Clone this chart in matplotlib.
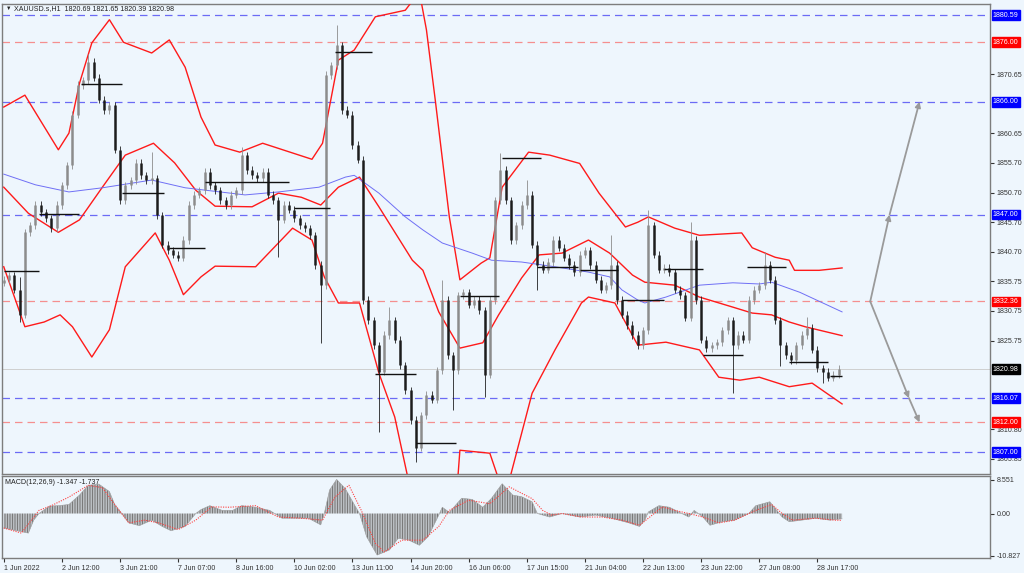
import matplotlib
matplotlib.use("Agg")
import matplotlib.pyplot as plt
import matplotlib.transforms as mtransforms
import numpy as np

plt.rcParams['font.family'] = ['Liberation Sans', 'DejaVu Sans']
plt.rcParams['hatch.linewidth'] = 0.8

# price closes, one every 3 hourly bars (XAUUSD H1, 1 Jun - 29 Jun 2022)
closes = [1836.0, 1836.8, 1834.3, 1830.1, 1844.0, 1845.2, 1848.6, 1847.4, 1846.4, 1844.7,
          1848.6, 1851.9, 1855.3, 1863.8, 1868.8, 1869.6, 1872.7, 1870.0, 1866.3, 1864.6,
          1865.4, 1857.9, 1849.4, 1851.9, 1852.8, 1855.7, 1853.6, 1852.8, 1853.1, 1846.9,
          1841.9, 1841.0, 1840.2, 1839.7, 1842.7, 1848.6, 1850.3, 1851.1, 1854.2, 1851.9,
          1851.1, 1849.4, 1848.6, 1850.3, 1851.1, 1857.0, 1854.5, 1853.6, 1853.1, 1854.2,
          1850.3, 1849.4, 1846.1, 1848.6, 1847.8, 1846.4, 1845.2, 1844.7, 1843.5, 1838.5,
          1835.1, 1870.5, 1872.1, 1875.5, 1864.6, 1863.8, 1858.7, 1856.2, 1832.6, 1829.2,
          1825.0, 1820.5, 1826.7, 1829.2, 1825.9, 1821.6, 1817.4, 1812.4, 1807.7, 1813.2,
          1816.6, 1815.8, 1820.8, 1832.6, 1823.3, 1820.8, 1833.4, 1833.9, 1831.8, 1832.6,
          1830.9, 1820.0, 1832.6, 1849.4, 1854.5, 1849.4, 1842.7, 1845.2, 1848.6, 1850.3,
          1841.9, 1838.5, 1837.7, 1839.0, 1842.7, 1841.4, 1839.7, 1838.5, 1837.3, 1840.2,
          1841.0, 1838.5, 1836.0, 1834.3, 1835.1, 1838.5, 1832.6, 1830.1, 1828.4, 1826.7,
          1825.0, 1827.5, 1845.2, 1840.2, 1837.7, 1838.0, 1837.3, 1834.3, 1833.4, 1829.6,
          1842.7, 1832.6, 1825.9, 1824.5, 1825.0, 1825.5, 1827.5, 1829.2, 1825.0, 1826.7,
          1825.9, 1832.6, 1834.3, 1835.1, 1838.5, 1836.0, 1829.2, 1825.0, 1823.3, 1822.5,
          1825.0, 1826.7, 1827.9, 1824.2, 1821.1, 1820.5, 1819.5, 1820.0, 1820.98]
first_open = 1835.5
spike_highs = {3: 1836.5, 16: 1874.0, 28: 1857.5, 45: 1858.4, 63: 1878.9, 73: 1831.4,
               83: 1836.0, 94: 1857.4, 99: 1852.8, 115: 1843.5, 122: 1847.8,
               130: 1845.8, 144: 1840.7, 152: 1829.8}
spike_lows = {3: 1828.9, 52: 1839.8, 60: 1825.4, 71: 1810.4, 78: 1805.3, 85: 1814.1,
              91: 1816.3, 101: 1834.3, 138: 1816.9, 147: 1821.5, 155: 1818.6}

# bollinger bands (bar index, price)
upper_bar = [0, 12, 31, 37, 43, 50, 60, 68, 84, 94, 103, 112, 120, 134, 147, 175, 181, 190,
             199, 211, 228, 236, 240, 245, 253, 259, 271, 276, 283, 298, 310, 327, 338, 353,
             360, 366, 381, 395, 419, 425, 438, 446, 449, 463, 476]
upper_val = [1865.1, 1867.1, 1857.9, 1860.7, 1869.1, 1875.9, 1879.8, 1876.0, 1874.2, 1876.4,
             1871.8, 1863.4, 1858.7, 1857.5, 1859.0, 1856.3, 1859.0, 1873.0, 1874.7, 1880.3,
             1881.4, 1884.5, 1878.1, 1866.3, 1846.6, 1836.0, 1838.8, 1839.7, 1851.6, 1857.5,
             1857.0, 1855.6, 1850.6, 1844.9, 1845.7, 1846.6, 1844.7, 1843.5, 1843.9, 1841.4,
             1839.8, 1839.3, 1837.6, 1837.6, 1838.0]
mid_bar = [0, 14, 31, 43, 56, 69, 85, 97, 109, 120, 141, 156, 169, 180, 190, 202, 213, 232,
           238, 247, 259, 272, 281, 294, 304, 317, 332, 344, 357, 364, 381, 395, 414, 425,
           436, 446, 455, 476]
mid_val = [1851.6, 1847.2, 1844.0, 1846.1, 1851.6, 1857.0, 1859.0, 1855.7, 1851.1, 1848.4,
           1848.3, 1850.6, 1849.9, 1848.6, 1851.6, 1853.3, 1848.3, 1839.3, 1837.6, 1830.6,
           1824.5, 1825.4, 1830.1, 1836.3, 1840.2, 1840.5, 1842.7, 1840.5, 1836.8, 1835.6,
           1835.1, 1833.1, 1831.4, 1830.4, 1830.1, 1828.9, 1828.1, 1826.6]
lower_bar = [0, 12, 23, 32, 39, 50, 60, 69, 86, 94, 102, 112, 120, 143, 164, 175, 182, 190,
             202, 213, 222, 229, 238, 250, 258, 259, 276, 280, 284, 288, 300, 313, 328, 332,
             347, 360, 376, 395, 406, 418, 429, 446, 459, 476]
lower_val = [1838.2, 1828.1, 1828.9, 1830.1, 1828.1, 1823.0, 1827.6, 1838.2, 1843.9, 1839.3,
             1833.5, 1836.5, 1838.3, 1838.2, 1844.7, 1842.7, 1836.5, 1832.1, 1832.1, 1820.3,
             1812.9, 1803.3, 1797.5, 1800.0, 1803.3, 1807.3, 1806.8, 1803.3, 1801.5, 1803.3,
             1816.9, 1824.2, 1832.1, 1833.1, 1832.1, 1825.0, 1825.5, 1824.2, 1819.6, 1819.1,
             1819.6, 1818.0, 1818.6, 1815.1]

# moving average (blue)
ma_bar = [0, 18, 37, 56, 84, 103, 120, 137, 156, 179, 194, 199, 213, 228, 238, 249, 266,
          277, 294, 313, 332, 344, 351, 360, 364, 376, 395, 414, 429, 436, 452, 476]
ma_val = [1853.8, 1852.0, 1850.8, 1851.5, 1852.8, 1851.5, 1850.9, 1850.3, 1850.8, 1851.6,
          1853.3, 1853.6, 1850.6, 1846.6, 1844.4, 1842.2, 1840.5, 1839.3, 1839.0, 1838.2,
          1837.3, 1836.5, 1834.3, 1832.6, 1832.1, 1833.1, 1835.1, 1835.5, 1835.3, 1835.6,
          1833.9, 1830.6]

# daily close segments
seg_start = [0, 20, 44, 67, 94, 114, 165, 188, 211, 234, 259, 283, 303, 327, 351, 375, 397, 422, 446, 469]
seg_end = [20, 43, 67, 91, 114, 162, 185, 209, 234, 257, 281, 305, 326, 349, 375, 397, 420, 444, 468, 476]
seg_price = [1837.5, 1847.1, 1869.0, 1850.6, 1841.4, 1852.5, 1848.1, 1874.4, 1820.1, 1808.5,
             1833.3, 1856.5, 1838.2, 1837.6, 1832.6, 1837.8, 1823.3, 1838.2, 1822.1, 1819.8]

# MACD histogram and signal
macd_bar = [0, 14, 17, 20, 26, 31, 37, 43, 48, 54, 60, 63, 67, 71, 77, 84, 90, 95, 103, 109,
            112, 117, 124, 130, 135, 143, 151, 158, 165, 173, 180, 182, 185, 189, 194, 199,
            202, 206, 212, 219, 224, 230, 236, 241, 247, 249, 253, 260, 266, 272, 277, 283,
            289, 294, 300, 303, 310, 317, 327, 336, 345, 355, 361, 364, 366, 372, 378, 385,
            389, 392, 397, 401, 408, 415, 423, 427, 435, 438, 442, 446, 453, 461, 469, 476]
macd_val = [-3.7, -5.0, -1.7, 0.0, 1.9, 2.0, 2.3, 4.7, 7.2, 7.5, 5.6, 2.3, 0.0, -2.4, -3.1,
            -1.7, -3.3, -4.4, -3.3, 0.0, 1.0, 2.0, 0.8, 0.8, 2.0, 1.6, 0.8, -1.2, -1.2, -1.2,
            -2.9, 0.0, 6.0, 8.7, 6.3, 2.3, 0.0, -5.9, -10.6, -9.3, -6.3, -6.8, -8.1, -5.9,
            -0.4, 1.6, 0.3, 3.9, 3.6, 1.6, 3.9, 7.6, 4.7, 4.3, 3.0, 0.0, -0.9, 0.0, -0.9,
            -0.4, -1.2, -2.4, -3.3, -1.7, 0.4, 2.0, 1.6, 0.0, -0.9, 0.8, -0.9, -3.0, -2.1,
            -1.7, 0.0, 2.0, 3.0, 1.3, -0.9, -2.1, -1.7, -1.2, -1.7, -1.347]
sig_bar = [0, 10, 20, 27, 37, 48, 56, 63, 71, 80, 88, 99, 109, 118, 128, 143, 156, 169, 181,
           188, 196, 203, 211, 216, 226, 238, 247, 253, 264, 276, 287, 300, 306, 311, 317,
           328, 340, 351, 361, 366, 374, 381, 389, 397, 406, 415, 427, 436, 442, 448, 461,
           472, 476]
sig_val = [-3.7, -5.0, 0.8, 2.0, 4.2, 7.2, 6.6, 2.3, -2.4, -1.7, -2.4, -4.1, -1.7, 1.7, 1.6,
           2.0, -0.9, -1.2, -1.7, 4.2, 7.2, 0.8, -7.6, -9.8, -6.8, -6.8, -3.3, 0.8, 3.4, 2.5,
           6.8, 3.8, 0.8, -0.4, 0.0, -0.9, -0.9, -1.7, -3.0, -1.2, 1.7, 0.8, 0.0, -0.9, -2.4,
           -1.7, 0.8, 2.3, 0.0, -1.7, -1.2, -1.7, -1.737]

blue_levels = [1880.59, 1866.00, 1847.00, 1816.07, 1807.00]
red_levels = [1876.00, 1832.36, 1812.00]
last_price = 1820.98
price_ticks = [1870.65, 1860.65, 1855.70, 1850.70, 1845.70, 1840.70, 1835.75,
               1830.75, 1825.75, 1810.80, 1805.85]
time_tick_bars = [0, 33, 66, 99, 132, 165, 198, 231, 264, 297, 330, 363, 396, 429, 462]
time_tick_labels = ["1 Jun 2022", "2 Jun 12:00", "3 Jun 21:00", "7 Jun 07:00", "8 Jun 16:00",
                    "10 Jun 02:00", "13 Jun 11:00", "14 Jun 20:00", "16 Jun 06:00",
                    "17 Jun 15:00", "21 Jun 04:00", "22 Jun 13:00", "23 Jun 22:00",
                    "27 Jun 08:00", "28 Jun 17:00"]
# projection arrows (bar, price)
arrow_up = [(492, 1832.36), (503, 1847.00), (520, 1866.00)]
arrow_dn = [(492, 1832.36), (514, 1816.07), (520, 1812.00)]

bg = "#eef6fd"
fs = 5.1
fig = plt.figure(figsize=(10.24, 5.73), dpi=100, facecolor=bg)
ax = fig.add_axes([2 / 1024, 1 - 474 / 573, 988 / 1024, 470 / 573], facecolor=bg)
axm = fig.add_axes([2 / 1024, 1 - 558 / 573, 988 / 1024, 82 / 573], facecolor=bg, sharex=ax)

# levels
for lv in blue_levels:
    ax.axhline(lv, color="#6b6bf5", lw=0.9, ls=(0, (6, 4)), zorder=1)
for lv in red_levels:
    ax.axhline(lv, color="#f58f8f", lw=0.9, ls=(0, (6, 4)), zorder=1)
ax.axhline(last_price, color="#cfcfcf", lw=0.7, zorder=1)

# indicators
ax.plot(upper_bar, upper_val, color="#ff1a1a", lw=1.0, zorder=3)
ax.plot(mid_bar, mid_val, color="#ff1a1a", lw=1.0, zorder=3)
ax.plot(lower_bar, lower_val, color="#ff1a1a", lw=1.0, zorder=3)
ax.plot(ma_bar, ma_val, color="#6f6ff5", lw=0.7, zorder=3)

# candles
n = len(closes)
bars = np.arange(n) * 3
opens = np.array([first_open] + closes[:-1])
cl = np.array(closes)
hi = np.maximum(opens, cl) + 0.6
lo = np.minimum(opens, cl) - 0.6
for k, v in spike_highs.items():
    hi[k] = v
for k, v in spike_lows.items():
    lo[k] = v
up = cl >= opens
ax.vlines(bars, lo, hi, colors=np.where(up, "#8c8c8c", "#202020"), lw=0.6, zorder=4)
ax.vlines(bars[up], opens[up], cl[up], colors="#8c8c8c", lw=1.8, zorder=4)
ax.vlines(bars[~up], cl[~up], opens[~up], colors="#1c1c1c", lw=1.8, zorder=4)

# daily segments
ax.hlines(seg_price, seg_start, seg_end, colors="#111111", lw=1.0, zorder=5)

# arrows
for path in (arrow_up, arrow_dn):
    for a, b in zip(path[:-1], path[1:]):
        ax.annotate("", xy=b, xytext=a,
                    arrowprops=dict(arrowstyle="-|>", color="#9a9a9a", lw=1.3,
                                    mutation_scale=8, shrinkA=0, shrinkB=0), zorder=6)

ax.set_xlim(-1, 560)
ax.set_ylim(1803.30, 1882.45)
ax.yaxis.tick_right()
ax.set_yticks(price_ticks)
ax.set_yticklabels([f"{t:.2f}" for t in price_ticks])
ax.tick_params(axis="y", labelsize=fs, length=3, pad=2, colors="#333333")
ax.tick_params(axis="x", bottom=False, labelbottom=False)

# level labels on the price axis
trans = mtransforms.blended_transform_factory(ax.transAxes, ax.transData)
for lv in blue_levels:
    ax.text(1.003, lv, f"{lv:.2f}", transform=trans, fontsize=fs, color="white",
            va="center", ha="left", zorder=10,
            bbox=dict(boxstyle="square,pad=0.2", fc="#0000ff", ec="#0000ff"))
for lv in red_levels:
    ax.text(1.003, lv, f"{lv:.2f}", transform=trans, fontsize=fs, color="white",
            va="center", ha="left", zorder=10,
            bbox=dict(boxstyle="square,pad=0.2", fc="#ff0000", ec="#ff0000"))
ax.text(1.003, last_price, f"{last_price:.2f}", transform=trans, fontsize=fs, color="white",
        va="center", ha="left", zorder=10,
        bbox=dict(boxstyle="square,pad=0.2", fc="#000000", ec="#000000"))

ax.text(0.004, 0.996, "\u25bc", transform=ax.transAxes, fontsize=4, va="top", color="#222222")
ax.text(0.012, 0.997, "XAUUSD.s,H1  1820.69 1821.65 1820.39 1820.98",
        transform=ax.transAxes, fontsize=fs, va="top", color="#222222")

# MACD panel
axm.fill_between(macd_bar, 0, macd_val, facecolor="none", edgecolor="#7a7a7a",
                 hatch="||||||||||", lw=0, zorder=2)
axm.plot(macd_bar, macd_val, color="#9a9a9a", lw=0.4, zorder=2)
axm.plot(sig_bar, sig_val, color="#ff4040", lw=0.8, ls=(0, (1, 1.2)), zorder=3)
axm.set_ylim(-11.35, 9.57)
axm.yaxis.tick_right()
axm.set_yticks([8.551, 0.0, -10.827])
axm.set_yticklabels(["8.551", "0.00", "-10.827"])
axm.tick_params(axis="y", labelsize=fs, length=3, pad=2, colors="#333333")
axm.set_xticks(time_tick_bars)
axm.set_xticklabels(time_tick_labels, ha="left")
axm.tick_params(axis="x", labelsize=fs, length=3, pad=2, colors="#333333")
axm.text(0.003, 0.96, "MACD(12,26,9) -1.347 -1.737", transform=axm.transAxes,
         fontsize=fs, va="top", color="#222222")

for a in (ax, axm):
    for s in a.spines.values():
        s.set_color("#7d7d7d")
        s.set_linewidth(1.0)

fig.savefig("out.png", dpi=100, facecolor=bg)
